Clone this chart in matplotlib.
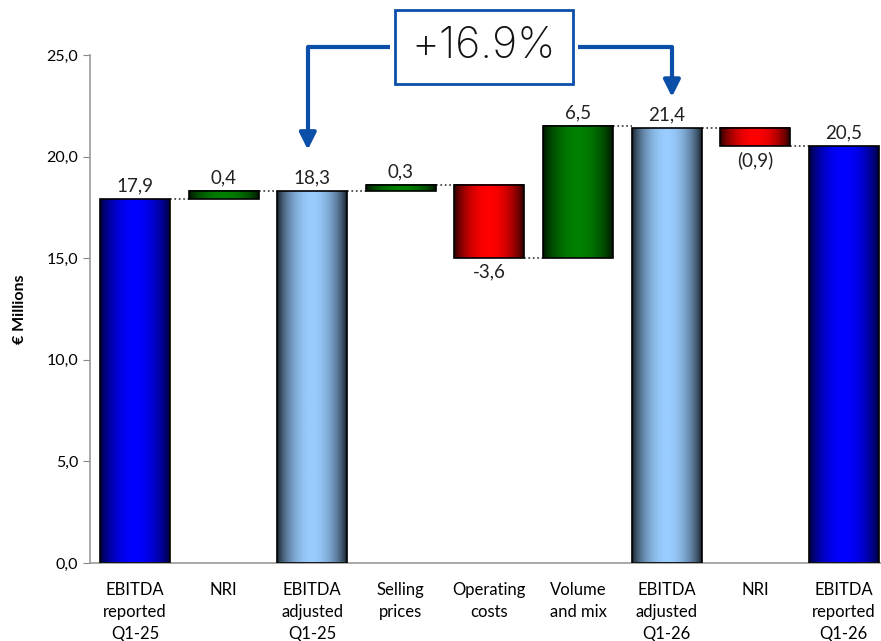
import matplotlib.pyplot as plt
import numpy as np
from matplotlib.colors import LinearSegmentedColormap

plt.rcParams['font.family'] = ['Lato', 'DejaVu Sans']

# bridge data
categories = ['EBITDA\nreported\nQ1-25', 'NRI', 'EBITDA\nadjusted\nQ1-25', 'Selling\nprices',
              'Operating\ncosts', 'Volume\nand mix', 'EBITDA\nadjusted\nQ1-26', 'NRI',
              'EBITDA\nreported\nQ1-26']
values = [17.9, 0.4, 18.3, 0.3, -3.6, 6.5, 21.4, -0.9, 20.5]
is_total = [True, False, True, False, False, False, True, False, True]
value_labels = ['17,9', '0,4', '18,3', '0,3', '-3,6', '6,5', '21,4', '(0,9)', '20,5']
growth_label = '+16.9%'

styles = {
    'reported': ('#000030', '#0000ff'),
    'adjusted': ('#101820', '#99ccff'),
    'up': ('#001000', '#008000'),
    'down': ('#200000', '#ff0000'),
}
bar_style = ['reported', 'up', 'adjusted', 'up', 'down', 'up', 'adjusted', 'down', 'reported']

fig = plt.figure(figsize=(8.81, 6.41), dpi=100)
ax = fig.add_axes([0.102, 0.1217, 0.898, 0.7925])

width = 0.79
level = 0.0
bottoms, tops = [], []
for i, v in enumerate(values):
    if is_total[i]:
        b, t = 0.0, v
        level = v
    else:
        b, t = (level, level + v) if v >= 0 else (level + v, level)
        level = level + v
    bottoms.append(b)
    tops.append(t)

# horizontal shading: dark edges, bright middle
prof = np.linspace(0, 1, 256)
shade = np.sin(np.pi * prof) ** 0.7
for i in range(len(values)):
    dark, bright = styles[bar_style[i]]
    cmap = LinearSegmentedColormap.from_list('g', [dark, bright])
    x0, x1 = i - width / 2, i + width / 2
    ax.imshow(shade[np.newaxis, :], cmap=cmap, vmin=0, vmax=1, aspect='auto',
              extent=(x0, x1, bottoms[i], tops[i]), zorder=2, interpolation='bilinear')
    ax.bar(i, tops[i] - bottoms[i], bottom=bottoms[i], width=width, facecolor='none',
           edgecolor='black', linewidth=1.2, zorder=3)
    if values[i] >= 0:
        ax.text(i, tops[i] + 0.25, value_labels[i], ha='center', va='bottom', fontsize=13.5, color='#222222')
    else:
        ax.text(i, bottoms[i] - 0.25, value_labels[i], ha='center', va='top', fontsize=13.5, color='#222222')

# dotted connectors between neighbouring bars
running = []
level = 0.0
for i, v in enumerate(values):
    level = v if is_total[i] else level + v
    running.append(level)
for i in range(len(values) - 1):
    ax.plot([i + width / 2, i + 1 - width / 2], [running[i], running[i]],
            ls=':', color='#333333', lw=1.2, zorder=1)

ax.set_xlim(-0.51, 8.42)
ax.set_ylim(0, 25)
ax.set_yticks(np.arange(0, 26, 5))
ax.set_yticklabels([f'{t:.1f}'.replace('.', ',') for t in np.arange(0, 26, 5)], fontsize=11.5)
ax.set_xticks(range(len(categories)))
ax.set_xticklabels(categories, fontsize=12, linespacing=1.45)
ax.tick_params(axis='x', length=0, pad=14)
ax.tick_params(axis='y', length=5, color='#888888', direction='out')
for s in ['top', 'right']:
    ax.spines[s].set_visible(False)
for s in ['left', 'bottom']:
    ax.spines[s].set_color('#999999')
    ax.spines[s].set_linewidth(1.2)
ax.set_ylabel('€ Millions', fontsize=11.5, fontweight='bold', labelpad=14)

# growth callout between the two adjusted bars
blue = '#0b4fa8'
ax.plot([1.95, 1.95, 2.88], [20.9, 25.4, 25.4], color=blue, lw=3, clip_on=False, solid_capstyle='butt')
ax.plot([5.0, 6.06, 6.06], [25.4, 25.4, 23.5], color=blue, lw=3, clip_on=False, solid_capstyle='butt')
for x, y_from, y_to in [(1.95, 21.2, 20.2), (6.06, 23.8, 22.8)]:
    ax.annotate('', xy=(x, y_to), xytext=(x, y_from),
                arrowprops=dict(arrowstyle='-|>,head_width=0.5,head_length=1.0', color=blue, lw=3),
                annotation_clip=False)
ax.text(3.94, 25.4, growth_label, ha='center', va='center', fontsize=31, color='#111111',
        family=['Inter', 'DejaVu Sans'], fontweight='light',
        bbox=dict(boxstyle='square,pad=0.38', facecolor='white', edgecolor=blue, linewidth=2),
        clip_on=False, zorder=5)

fig.savefig('out.png', dpi=100)
